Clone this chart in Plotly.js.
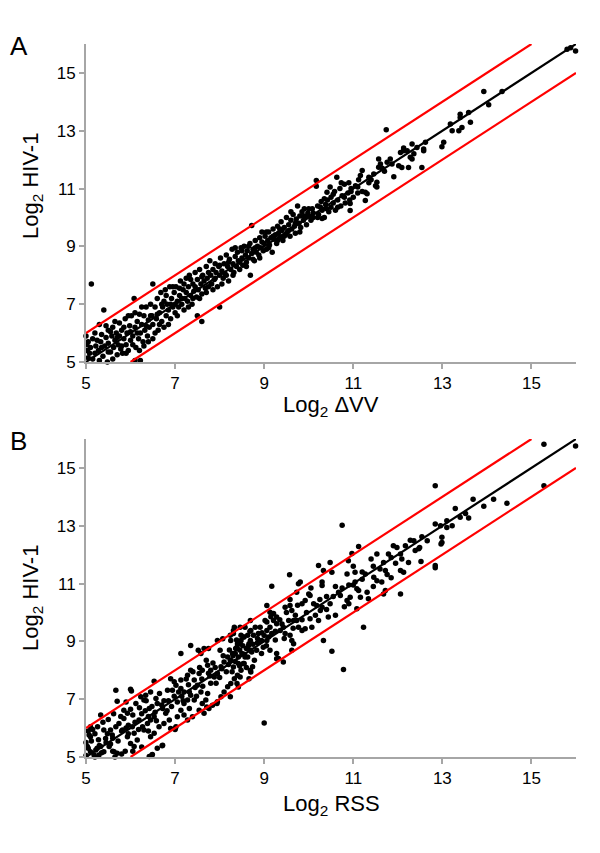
<!DOCTYPE html>
<html><head><meta charset="utf-8">
<script src="https://cdn.plot.ly/plotly-3.0.1.min.js"></script>
<style>html,body{margin:0;padding:0;background:#fff}#chart{width:600px;height:853px}</style>
</head><body><div id="chart"></div><script>
// Panel A: Log2 dVV (x) vs Log2 HIV-1 (y)
const pointsA = [
[5.0,5.9],[5.02,5.6],[5.03,5.4],[5.05,5.15],[5.1,5.5],[5.12,7.7],[5.15,5.8],[5.2,5.3],[5.2,6.0],[5.22,5.55],
[5.28,5.4],[5.3,6.3],[5.33,5.7],[5.35,5.95],[5.38,5.2],[5.4,6.8],[5.42,5.55],[5.45,5.85],[5.48,5.0],[5.5,5.65],[5.5,6.1],
[5.55,5.35],[5.58,5.9],[5.6,6.2],[5.62,5.5],[5.65,5.75],[5.68,6.0],[5.7,5.25],[5.72,5.6],[5.75,6.35],[5.75,5.9],
[5.78,5.45],[5.8,6.1],[5.82,5.3],[5.85,5.8],[5.88,6.5],[5.9,5.6],[5.92,6.0],[5.95,5.4],[5.98,6.25],[6.0,5.75],
[6.02,6.6],[6.05,5.9],[6.08,7.2],[6.1,6.2],[6.1,5.05],[6.12,5.5],[6.15,6.4],[6.18,5.8],[6.2,6.65],[6.22,5.05],[6.22,6.0],[6.25,6.3],
[6.28,5.7],[6.3,6.6],[6.32,6.1],[6.35,6.9],[6.38,5.9],[6.4,6.45],[6.42,6.2],[6.45,7.0],[6.48,6.6],[6.5,7.7],[6.5,5.8],[6.5,6.3],
[6.55,6.9],[6.58,6.5],[6.6,7.2],[6.62,6.1],[6.65,6.7],[6.68,7.4],[6.7,6.4],[6.72,6.9],[6.75,7.1],[6.75,6.2],
[6.78,7.5],[6.8,6.6],[6.82,7.0],[6.85,6.8],[6.88,7.6],[6.9,6.5],[6.92,7.2],[6.95,6.9],[6.98,7.4],[7.0,6.7],[7.0,7.0],
[7.02,7.6],[7.05,7.1],[7.08,6.9],[7.1,7.3],[7.12,7.8],[7.15,7.0],[7.18,7.5],[7.2,6.8],[7.22,7.2],[7.25,7.9],[7.25,7.4],
[7.28,7.1],[7.3,7.6],[7.32,8.0],[7.35,7.3],[7.38,7.0],[7.4,7.7],[7.42,7.45],[7.45,8.1],[7.48,7.25],[7.5,7.85],[7.5,6.6],
[7.52,7.5],[7.55,8.2],[7.58,7.7],[7.6,6.4],[7.6,7.35],[7.62,8.0],[7.65,7.8],[7.68,7.55],[7.7,8.3],[7.72,7.9],[7.75,7.6],
[7.78,8.5],[7.8,8.0],[7.82,7.7],[7.85,8.2],[7.88,7.85],[7.9,8.4],[7.92,8.1],[7.95,7.6],[7.98,8.3],[8.0,6.9],[8.0,8.0],
[8.02,8.6],[8.05,8.15],[8.08,7.9],[8.1,8.4],[8.12,8.05],[8.15,8.7],[8.18,8.3],[8.2,7.8],[8.22,8.55],[8.25,8.2],
[8.28,8.9],[8.3,8.4],[8.32,8.1],[8.35,8.65],[8.38,8.3],[8.4,8.8],[8.42,8.5],[8.45,8.2],[8.48,8.95],[8.5,8.6],
[8.52,8.35],[8.55,9.0],[8.58,8.7],[8.6,8.45],[8.62,8.85],[8.65,8.6],[8.68,9.1],[8.72,9.72],[8.69,8.0],[8.72,8.75],[8.75,8.9],
[8.78,8.5],[8.8,9.2],[8.82,8.8],[8.85,9.0],[8.88,8.7],[8.9,9.3],[8.92,8.95],[8.95,9.5],[8.98,8.85],[9.0,9.1],
[9.02,9.35],[9.05,8.9],[9.08,9.2],[9.1,9.5],[9.12,9.05],[9.15,9.3],[9.18,8.8],[9.2,9.6],[9.22,9.25],[9.25,9.4],
[9.28,9.1],[9.3,9.7],[9.32,9.45],[9.35,9.3],[9.38,9.85],[9.4,9.55],[9.42,9.2],[9.45,9.65],[9.48,9.4],[9.5,10.0],
[9.52,9.5],[9.55,9.75],[9.58,9.35],[9.6,9.9],[9.62,9.6],[9.65,10.1],[9.68,9.7],[9.7,9.45],[9.72,9.95],[9.75,10.4],
[9.78,9.8],[9.8,10.05],[9.82,9.65],[9.85,10.2],[9.88,9.9],[9.9,10.3],[9.92,10.0],[9.95,9.75],[9.98,10.15],
[10.0,10.05],[10.05,9.9],[10.08,10.3],[10.1,10.0],[10.17,11.28],[10.17,11.08],[10.2,10.4],[10.22,10.1],[10.28,10.55],[10.3,10.25],
[10.35,10.0],[10.38,10.45],[10.42,10.6],[10.45,10.2],[10.5,10.7],[10.5,10.35],[10.55,10.5],[10.58,10.9],[10.6,10.25],[10.65,10.6],
[10.7,11.0],[10.72,10.4],[10.75,10.75],[10.8,11.15],[10.82,10.5],[10.88,10.85],[10.9,11.2],[10.92,10.6],[10.95,11.0],[11.0,10.7],
[10.63,11.39],[10.73,11.2],[10.48,11.05],[10.41,10.87],[10.93,10.48],[10.93,10.24],[10.26,10.36],[10.3,9.96],
[11.2,11.62],[11.16,11.45],[11.35,11.39],[11.46,11.5],[11.57,11.74],[11.61,11.85],[11.57,12.02],[11.76,11.91],[11.83,12.02],[11.87,11.85],
[11.91,11.41],[12.02,11.79],[11.53,11.22],[11.5,11.1],[11.31,10.82],[11.27,10.59],[11.53,11.05],[11.27,10.87],[11.05,11.1],[11.1,10.85],
[11.12,11.3],[11.4,11.3],[11.74,13.03],[11.65,11.7],[11.7,11.6],
[12.13,12.31],[12.21,12.31],[12.32,12.54],[12.36,12.2],[12.28,12.08],[12.24,11.73],[12.09,11.73],[12.58,12.31],[12.62,12.6],[12.54,11.73],
[12.99,12.45],[13.03,12.6],[13.18,13.23],[13.22,13.0],[13.37,13.0],[13.44,13.11],[13.4,13.46],[13.63,13.29],[13.59,13.63],[13.4,13.57],
[13.93,14.36],[14.04,13.9],[14.34,14.36],[15.8,15.82],[15.88,15.87],[15.99,15.76],
[12.06,12.25],[12.13,12.4],[12.43,12.42],[12.58,12.37],[12.32,12.02],
[5.05,5.7],[5.08,5.3],[5.15,5.1],[5.25,5.75],[5.3,5.05],[5.35,5.5],[5.45,6.25],[5.5,5.35],[5.55,6.05],[5.6,5.1],
[5.65,6.4],[5.7,5.85],[5.8,5.55],[5.85,6.2],[5.9,5.3],[5.95,6.6],[6.0,6.05],[6.05,5.6],[6.1,6.7],[6.15,6.0],
[6.2,5.4],[6.25,6.9],[6.3,5.55],[6.35,6.25],[6.4,5.7],[6.45,6.6],[6.55,6.0],[6.6,6.65],[6.65,6.3],[6.7,7.0],
[6.8,7.3],[6.85,6.3],[6.9,7.0],[6.95,7.6],[7.05,6.6],[7.1,7.55],[7.15,7.2],[7.2,7.7],[7.3,6.9],[7.35,7.85],
[7.4,7.2],[7.45,7.6],[7.55,7.2],[7.6,7.95],[7.7,7.4],[7.75,8.1],[7.85,7.5],[7.9,7.9],[8.0,8.35],[8.05,7.7],
[8.15,8.0],[8.2,8.45],[8.3,8.0],[8.35,8.95],[8.45,8.45],[8.5,8.85],[8.6,8.3],[8.65,9.0],[8.75,8.55],[8.8,8.95],
[8.9,8.6],[8.95,9.15],[9.05,9.5],[9.1,8.95],[9.2,9.35],[9.3,9.2],[9.35,9.6],[9.45,9.35],[9.55,9.55],[9.6,10.2],
[9.7,9.8],[9.8,9.5],[9.9,10.05],[10.0,10.3],[10.1,10.15],[10.2,10.0],[10.35,10.65],[10.4,10.3],[10.55,10.8],[10.65,10.35],
[10.8,10.7],[10.95,10.9],[11.1,11.05],[11.2,10.9],[11.35,11.2]
];

// Panel B: Log2 RSS (x) vs Log2 HIV-1 (y)
const pointsB = [
[5.1,6.05],[5.26,6.05],[5.07,5.76],[5.03,5.36],[5.1,5.18],[5.22,5.24],[5.33,5.36],[5.4,5.18],[5.52,5.36],[5.63,5.18],
[5.7,5.13],[5.29,5.07],[5.18,5.07],[5.44,5.64],[5.59,5.76],[5.4,5.93],[5.55,5.93],[5.67,6.05],[5.74,6.16],[5.85,6.33],
[5.93,6.51],[5.85,6.62],[5.82,5.93],[5.93,5.7],[6.0,5.47],[6.08,5.36],[6.15,5.59],[6.08,5.82],[6.04,6.05],[6.19,6.28],
[6.27,6.05],[6.3,5.93],[6.38,6.16],[6.45,6.28],[6.53,6.39],[6.42,6.68],[6.3,6.97],[6.23,7.08],[6.34,7.14],[6.45,7.25],
[6.57,7.02],[6.6,6.85],[6.72,6.68],[6.79,6.51],[6.87,6.28],[6.75,6.16],[6.64,6.05],[6.53,5.82],[6.45,5.7],[6.72,5.41],
[6.49,5.09],[6.9,5.99],[7.02,6.05],[7.05,6.39],[7.13,6.62],[7.2,6.85],[7.28,6.97],[7.35,7.14],[7.43,6.97],[7.32,6.68],
[7.2,6.45],[7.28,6.28],[7.39,6.39],[7.54,6.62],[7.61,6.85],[7.69,6.97],[7.73,7.2],[7.58,7.25],[7.5,7.48],[7.43,7.66],
[7.54,7.89],[7.61,8.0],[7.73,8.17],[7.8,8.0],[7.88,7.77],[7.95,7.89],[8.03,8.12],[8.1,8.29],[8.18,8.46],[8.25,8.35],
[8.29,8.58],[8.36,8.75],[8.4,8.92],[8.48,9.03],[8.55,9.15],[8.63,9.21],[8.66,8.92],[8.7,8.69],[8.63,8.46],[8.55,8.23],
[8.48,8.0],[8.4,7.83],[8.33,7.71],[8.25,7.54],[8.18,7.43],[8.1,7.25],[8.03,7.08],[7.95,6.91],[7.84,6.79],[7.76,6.68],
[7.65,6.51],[8.25,9.03],[7.95,9.03],[7.65,8.75],[7.58,8.58],[7.35,8.0],[7.28,7.83],[7.13,7.66],[7.02,7.48],[6.94,7.31],
[6.83,7.31],[6.9,7.71],[6.98,7.6],[7.13,7.37],[7.2,7.25],[8.33,9.49],[8.48,9.21],[8.7,9.38],[8.74,8.12],[8.7,7.94],[8.66,7.71],
[4.99,7.71],[5.33,6.45],[5.7,6.93],[5.67,7.31],[6.0,7.34],[6.02,7.28],[6.53,7.62],[7.13,8.58],[7.35,8.86],[5.0,5.5],
[5.05,5.9],[5.15,5.95],[5.1,5.7],[5.0,5.05],[5.2,5.0],[5.3,5.4],[5.5,6.3],[5.6,5.2],[5.65,5.0],[6.05,5.2],
[6.42,5.02],[6.6,5.3],[5.8,5.1],[5.9,6.0],[6.0,6.65],[5.9,6.9],[6.35,6.95],[6.2,6.7],[6.71,5.39],[7.0,5.99],[7.0,5.95],[6.48,5.07],
[7.52,8.69],[7.75,8.75],[8.01,8.69],[8.07,9.09],[8.31,9.27],[8.46,9.49],[8.69,9.72],[9.06,9.67],[9.28,9.84],[9.47,10.18],
[9.58,10.24],[9.06,10.24],[9.13,10.01],[9.73,10.7],[9.58,10.45],[9.77,10.99],[9.17,10.91],[9.57,11.3],[9.0,6.18],
[8.42,7.42],[8.24,7.08],[7.94,6.85],[7.71,6.73],[9.43,8.29],[9.28,8.4],[9.62,8.69],[9.66,8.92],
[10.75,13.02],[11.12,12.28],[10.97,12.04],[10.89,11.79],[11.9,12.31],[11.98,12.25],[11.53,12.02],[11.79,12.02],[11.68,11.73],[11.72,11.45],
[11.76,11.31],[11.53,11.1],[11.64,11.05],[11.46,11.22],[11.27,11.33],[11.04,11.39],[10.86,11.33],[10.52,11.39],[10.48,11.73],[10.33,11.45],
[10.22,11.62],[10.3,11.05],[10.3,10.93],[11.04,11.05],[11.08,10.82],[11.12,10.76],[11.31,10.7],[11.34,10.47],[11.16,10.53],[10.93,10.53],
[10.86,10.41],[10.71,10.59],[10.67,10.7],[11.72,10.76],[11.68,10.64],[11.08,10.13],[11.23,9.49],[10.52,8.66],[10.33,9.03],[10.78,8.03],
[9.81,11.05],[10.0,10.64],[10.03,10.59],[9.92,10.41],[9.85,10.3],[10.11,10.3],[10.18,10.24],[10.3,10.18],[10.48,10.3],[10.44,9.84],
[10.26,10.07],[10.22,9.72],[10.03,9.78],[10.07,9.49],[9.62,10.07],[9.7,9.9],[9.73,9.72],[9.77,9.49],[9.85,9.38],[9.92,9.44],
[9.66,9.72],[9.55,9.72],[9.43,9.49],[9.47,9.27],[9.58,9.21],[9.62,9.03],[9.36,9.38],[9.28,9.61],[9.21,9.72],[9.13,9.49],
[9.17,9.27],[9.06,9.38],[9.02,9.72],[9.21,9.96],[8.91,9.49],[8.87,9.27],[8.8,9.49],[8.57,9.49],[8.76,9.21],[8.69,9.03],
[8.65,8.86],[8.53,9.15],[8.46,8.92],[8.39,8.8],[8.31,9.38],[8.24,9.21],[8.35,8.58],[8.42,8.46],[8.5,8.58],[8.57,8.46],
[8.69,8.0],[8.53,8.23],[8.42,8.23],[8.31,8.11],[8.24,8.34],[8.46,7.77],[8.39,7.54],[9.32,8.41],[9.28,8.58],[9.13,8.69],
[8.98,8.8],[8.94,8.58],[8.83,8.69],[8.72,8.63],[8.94,9.03],[9.06,9.03],
[10.6,10.9],[10.9,10.95],[11.2,11.15],[11.45,11.6],[11.85,11.9],[11.4,11.85],[11.0,11.6],[10.4,10.55],[10.8,10.2],
[8.3,8.5],[8.45,8.7],[8.6,8.75],[8.75,8.9],[8.85,9.1],[9.0,9.2],[9.1,9.15],[9.25,9.35],[9.4,9.6],[8.55,8.55],
[8.35,8.3],[8.2,8.2],[8.05,8.05],[7.9,8.1],[7.75,7.9],[7.8,7.55],[7.6,7.7],[7.45,7.4],[7.3,7.5],[7.15,7.1],
[7.05,6.9],[6.85,6.95],[6.7,6.8],[6.55,6.55],[6.4,6.4],[6.25,6.5],[6.1,6.2],[5.95,6.1],[5.8,5.9],[5.6,5.65],[5.45,5.5],[5.25,5.3],
[5.05,5.3],[5.12,5.55],[5.2,5.8],[5.28,5.6],[5.35,5.15],[5.38,6.2],[5.48,5.8],[5.55,5.45],[5.62,6.5],[5.72,5.55],
[5.78,6.4],[5.88,5.2],[5.95,5.8],[6.05,6.45],[6.12,6.85],[6.18,5.95],[6.25,5.35],[6.33,6.6],[6.4,5.9],[6.48,6.75],
[6.58,6.25],[6.65,7.2],[6.75,6.95],[6.82,6.6],[6.92,6.75],[6.98,7.1],[7.08,7.25],[7.18,6.95],[7.25,7.7],[7.32,7.25],
[7.4,7.95],[7.48,7.1],[7.55,8.1],[7.62,7.45],[7.7,8.35],[7.78,7.8],[7.85,8.25],[7.92,7.55],[8.0,7.75],[8.08,8.5],
[8.15,7.95],[8.22,8.7],[8.28,7.95],[8.38,9.05],[8.45,8.15],[8.52,8.85],[8.6,8.1],[8.68,9.35],[8.78,8.35],[8.85,8.95],
[8.95,9.3],[9.05,8.85],[9.15,9.85],[9.25,9.05],[9.35,9.75],[9.45,9.1],[9.5,10.0],[9.65,9.45],[9.75,10.25],[9.85,9.75],
[9.95,10.0],[10.05,10.85],[10.15,9.9],[10.25,10.45],[10.4,10.1],[10.55,10.55],[10.6,9.9],[10.75,10.85],[10.9,10.3],[11.0,10.95],
[11.2,11.4],[11.45,10.9],[11.6,11.5],[11.85,11.2],[11.95,11.7],
[15.28,15.82],[15.28,14.38],[15.99,15.76],[12.84,14.38],[12.84,11.62],[12.84,11.55],[14.45,13.78],[14.15,13.92],[13.93,13.67],[13.69,13.92],
[13.59,13.27],[13.52,13.42],[13.4,13.29],[13.29,13.6],[13.22,13.0],[13.1,13.17],[13.1,12.94],[12.96,13.0],[12.99,12.6],[12.99,12.42],
[12.97,12.37],[12.84,13.06],[12.66,12.48],[12.54,12.62],[12.52,11.76],[12.49,12.25],[12.47,12.2],[12.39,12.14],[12.36,12.48],[12.28,12.5],
[12.17,12.31],[12.09,11.85],[12.06,12.02],[12.24,11.73],[12.13,11.39],[12.06,11.45],[12.06,10.64]
];

// Reference lines (identity and +/- 1 log2 unit)
const fitX = [5, 16], fitY = [5, 16];
const upperX = [5, 15], upperY = [6, 16];
const lowerX = [6, 16], lowerY = [5, 15];
const tickVals = [5, 7, 9, 11, 13, 15];
const axisRange = [5, 16];

const FONT = 'Arial, "Liberation Sans", sans-serif';
function pts(p, xa, ya) {
  return {x: p.map(d => d[0]), y: p.map(d => d[1]), xaxis: xa, yaxis: ya, type: 'scatter', mode: 'markers',
    marker: {color: '#000', size: 5.5}, cliponaxis: false, showlegend: false, hoverinfo: 'x+y'};
}
function line(x, y, c, xa, ya) {
  return {x: x, y: y, xaxis: xa, yaxis: ya, type: 'scatter', mode: 'lines', line: {color: c, width: 2.2},
    cliponaxis: false, showlegend: false, hoverinfo: 'skip'};
}
const data = [
  pts(pointsA, 'x', 'y'), line(fitX, fitY, '#000', 'x', 'y'), line(upperX, upperY, '#ff0000', 'x', 'y'), line(lowerX, lowerY, '#ff0000', 'x', 'y'),
  pts(pointsB, 'x2', 'y2'), line(fitX, fitY, '#000', 'x2', 'y2'), line(upperX, upperY, '#ff0000', 'x2', 'y2'), line(lowerX, lowerY, '#ff0000', 'x2', 'y2')
];
const ax = {range: axisRange, tickvals: tickVals, showgrid: false, zeroline: false, showline: true,
  linecolor: '#a6a6a6', linewidth: 2, ticks: 'outside', ticklen: 5, tickwidth: 2, tickcolor: '#a6a6a6',
  tickfont: {family: FONT, size: 17, color: '#000'}, fixedrange: true};
const W = 600, H = 853;
const px = v => v / W, py = v => 1 - v / H;
const xd = [px(86), px(576)];
const layout = {
  width: W, height: H, margin: {l: 0, r: 0, t: 0, b: 0}, paper_bgcolor: '#fff', plot_bgcolor: '#fff',
  font: {family: FONT, color: '#000'},
  xaxis: Object.assign({}, ax, {domain: xd, anchor: 'y'}),
  yaxis: Object.assign({}, ax, {domain: [py(362), py(44)], anchor: 'x'}),
  xaxis2: Object.assign({}, ax, {domain: xd, anchor: 'y2'}),
  yaxis2: Object.assign({}, ax, {domain: [py(757), py(439)], anchor: 'x2'}),
  annotations: [
    {text: 'A', x: px(19), y: py(46), xref: 'paper', yref: 'paper', showarrow: false, font: {size: 26, family: FONT}, xanchor: 'center', yanchor: 'middle'},
    {text: 'B', x: px(18), y: py(441), xref: 'paper', yref: 'paper', showarrow: false, font: {size: 26, family: FONT}, xanchor: 'center', yanchor: 'middle'},
    {text: 'Log<sub>2</sub> ΔVV', x: px(331), y: py(406), xref: 'paper', yref: 'paper', showarrow: false, font: {size: 22, family: FONT}, xanchor: 'center', yanchor: 'middle'},
    {text: 'Log<sub>2</sub> RSS', x: px(331), y: py(805), xref: 'paper', yref: 'paper', showarrow: false, font: {size: 22, family: FONT}, xanchor: 'center', yanchor: 'middle'},
    {text: 'Log<sub>2</sub> HIV-1', x: px(32), y: py(186), xref: 'paper', yref: 'paper', showarrow: false, textangle: -90, font: {size: 22, family: FONT}, xanchor: 'center', yanchor: 'middle'},
    {text: 'Log<sub>2</sub> HIV-1', x: px(32), y: py(598), xref: 'paper', yref: 'paper', showarrow: false, textangle: -90, font: {size: 22, family: FONT}, xanchor: 'center', yanchor: 'middle'}
  ]
};
Plotly.newPlot('chart', data, layout, {displayModeBar: false, staticPlot: true});
</script></body></html>
